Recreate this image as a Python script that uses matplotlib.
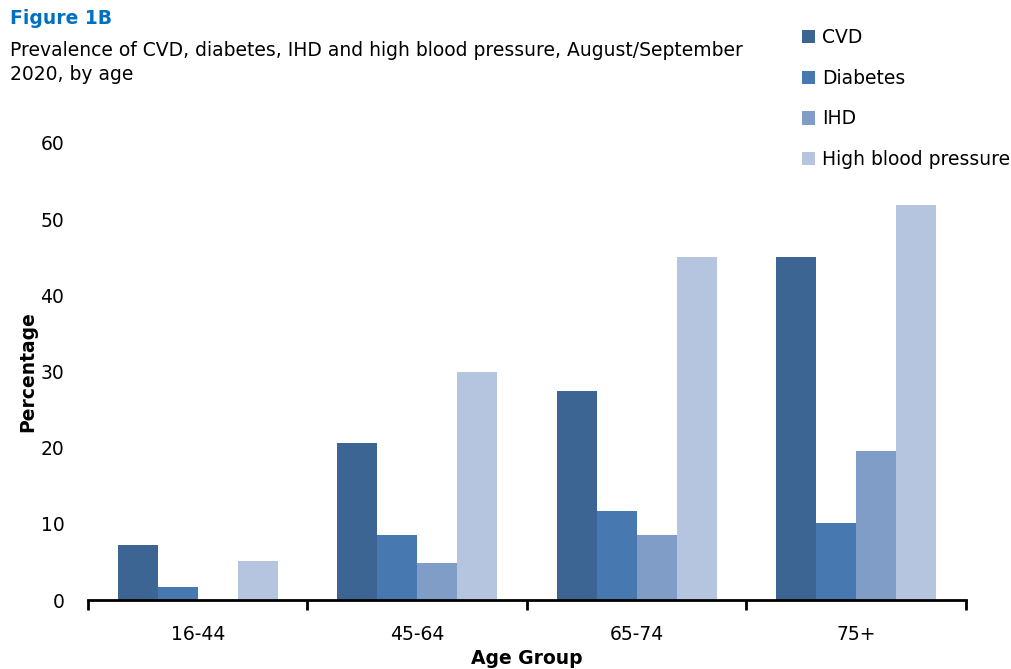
import matplotlib
matplotlib.use("Agg")
import matplotlib.pyplot as plt
import numpy as np

categories = ["16-44", "45-64", "65-74", "75+"]
series_names = ["CVD", "Diabetes", "IHD", "High blood pressure"]
cvd = [7.2, 20.6, 27.4, 45.0]
diabetes = [1.7, 8.5, 11.7, 10.1]
ihd = [0.0, 4.8, 8.5, 19.5]
hbp = [5.1, 30.0, 45.0, 51.8]
colors = ["#3C6594", "#4878B0", "#809DC8", "#B5C5DF"]

plt.rcParams['font.family'] = ['DejaVu Sans']

fig = plt.figure(figsize=(10.12, 6.69), dpi=100)
ax = fig.add_axes([88/1012, 1-600/669, (966-88)/1012, (600-143)/669])

x = np.arange(len(categories))
w = 0.182
for i, (vals, name, c) in enumerate(zip([cvd, diabetes, ihd, hbp], series_names, colors)):
    ax.bar(x + (i - 1.5) * w, vals, width=w, color=c, label=name)

ax.set_xlim(-0.5, 3.5)
ax.set_ylim(0, 60)
ax.set_yticks(range(0, 61, 10))
ax.set_xticks(x)
ax.set_xticklabels(categories)
ax.set_xticks(np.arange(-0.5, 4, 1), minor=True)
ax.tick_params(axis='x', which='major', length=0, pad=18, labelsize=13.5)
ax.tick_params(axis='x', which='minor', length=7, width=2, direction='out')
ax.tick_params(axis='y', length=0, pad=17, labelsize=13.5)
for s in ['top', 'right', 'left']:
    ax.spines[s].set_visible(False)
ax.spines['bottom'].set_linewidth(2)

ax.set_xlabel("Age Group", fontsize=13.5, fontweight='bold')
ax.set_ylabel("Percentage", fontsize=13.5, fontweight='bold')
ax.yaxis.set_label_coords(-(88 - 28) / 878, 0.5)
ax.xaxis.set_label_coords(0.5, -(659 - 600) / 457)
ax.xaxis.label.set_va('center')
ax.yaxis.label.set_va('center')

fig.text(10/1012, 1-18/669, "Figure 1B", fontsize=13.5, fontweight='bold', color='#0070C0', va='center', ha='left')
fig.text(10/1012, 1-51/669, "Prevalence of CVD, diabetes, IHD and high blood pressure, August/September",
         fontsize=13.5, va='center', ha='left')
fig.text(10/1012, 1-75/669, "2020, by age", fontsize=13.5, va='center', ha='left')

leg = fig.legend(loc='upper left', bbox_to_anchor=(802/1012, 1-28/669), frameon=False,
                 fontsize=13.5, handlelength=0.7, handleheight=0.7, handletextpad=0.35,
                 labelspacing=1.16, borderaxespad=0, borderpad=0)

fig.savefig("out.png", dpi=100)
